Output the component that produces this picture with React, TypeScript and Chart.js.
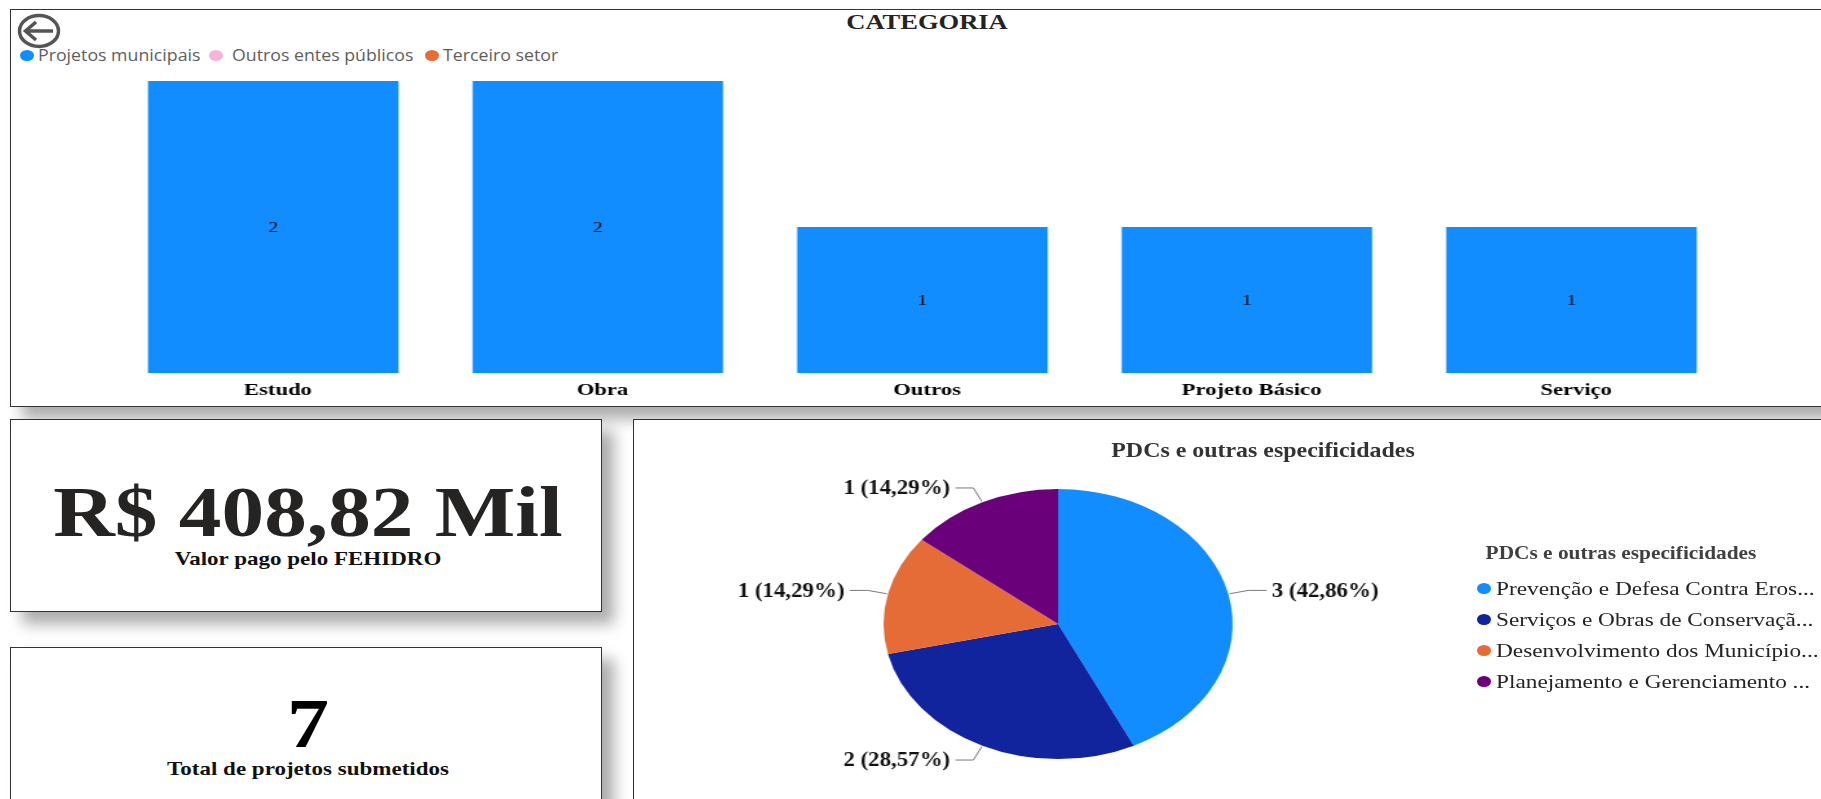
import React, { useEffect, useRef } from "react";
import { Chart, registerables } from "chart.js";

Chart.register(...registerables);

const categories = ["Estudo", "Obra", "Outros", "Projeto Básico", "Serviço"];
const projetosMunicipais = [2, 2, 1, 1, 1];
const outrosEntes = [0, 0, 0, 0, 0];
const terceiroSetor = [0, 0, 0, 0, 0];
const seriesNames = ["Projetos municipais", "Outros entes públicos", "Terceiro setor"];
const seriesColors = ["#118DFF", "#F5B4DC", "#E66C37"];

const pdcNames = [
  "Prevenção e Defesa Contra Eros...",
  "Serviços e Obras de Conservaçã...",
  "Desenvolvimento dos Município...",
  "Planejamento e Gerenciamento ...",
];
const pdcValues = [3, 2, 1, 1];
const pdcColors = ["#118DFF", "#12239E", "#E66C37", "#6B007B"];

const STRETCH = 1.293;
const SERIF = '"Liberation Serif", serif';

const valueLabels = {
  id: "valueLabels",
  afterDatasetsDraw(chart: any) {
    const ctx = chart.ctx;
    ctx.save();
    ctx.font = `15px ${SERIF}`;
    ctx.fillStyle = "#000";
    ctx.textAlign = "center";
    ctx.textBaseline = "middle";
    chart.data.datasets.forEach((ds: any, i: number) => {
      chart.getDatasetMeta(i).data.forEach((bar: any, j: number) => {
        if (ds.data[j] > 0) ctx.fillText(String(ds.data[j]), bar.x, (bar.y + bar.base) / 2 + 1);
      });
    });
    ctx.restore();
  },
};

const pieLabels = {
  id: "pieLabels",
  afterDatasetsDraw(chart: any) {
    const ctx = chart.ctx;
    const values: number[] = chart.data.datasets[0].data;
    const total = values.reduce((a, b) => a + b, 0);
    ctx.save();
    ctx.font = `bold 20px ${SERIF}`;
    ctx.textBaseline = "middle";
    chart.getDatasetMeta(0).data.forEach((arc: any, i: number) => {
      const mid = (arc.startAngle + arc.endAngle) / 2;
      const r = arc.outerRadius;
      const dir = Math.cos(mid) >= 0 ? 1 : -1;
      const x0 = arc.x + Math.cos(mid) * (r + 1);
      const y0 = arc.y + Math.sin(mid) * (r + 1);
      const x1 = arc.x + Math.cos(mid) * (r + 16);
      const y1 = arc.y + Math.sin(mid) * (r + 16);
      const x2 = x1 + dir * 14;
      ctx.strokeStyle = "#7a7a7a";
      ctx.lineWidth = 1;
      ctx.beginPath();
      ctx.moveTo(x0, y0);
      ctx.lineTo(x1, y1);
      ctx.lineTo(x2, y1);
      ctx.stroke();
      const pct = ((values[i] / total) * 100).toFixed(2).replace(".", ",");
      ctx.fillStyle = "#111";
      ctx.textAlign = dir > 0 ? "left" : "right";
      // The label face is narrower than the stretched canvas would make it.
      ctx.save();
      ctx.translate(x2 + dir * 4, y1 + 1);
      ctx.scale(0.885, 1);
      ctx.fillText(`${values[i]} (${pct}%)`, 0, 0);
      ctx.restore();
    });
    ctx.restore();
  },
};

type TextProps = {
  x: number;
  y: number;
  size: number;
  text: string;
  sx?: number;
  bold?: boolean;
  color?: string;
  font?: string;
  anchor?: "center" | "left";
};

function Label({ x, y, size, text, sx = STRETCH, bold = true, color = "#111", font = SERIF, anchor = "center" }: TextProps) {
  const centered = anchor === "center";
  return (
    <div
      style={{
        position: "absolute",
        left: x,
        top: y,
        fontFamily: font,
        fontSize: size,
        fontWeight: bold ? 700 : 400,
        color,
        lineHeight: 1,
        whiteSpace: "nowrap",
        transformOrigin: centered ? "center" : "left center",
        transform: centered ? `translate(-50%,-50%) scaleX(${sx})` : `translateY(-50%) scaleX(${sx})`,
      }}
    >
      {text}
    </div>
  );
}

function Panel({ l, t, w, h, shadow = true }: { l: number; t: number; w: number; h: number; shadow?: boolean }) {
  return (
    <div
      style={{
        position: "absolute",
        left: l,
        top: t,
        width: w,
        height: h,
        boxSizing: "border-box",
        border: "1.5px solid #333",
        background: "#fff",
        boxShadow: shadow ? "12px 12px 14px rgba(0,0,0,0.33)" : "none",
      }}
    />
  );
}

function Dot({ x, y, color }: { x: number; y: number; color: string }) {
  return (
    <div
      style={{
        position: "absolute",
        left: x - 7,
        top: y - 5.5,
        width: 14,
        height: 11,
        borderRadius: "50%",
        background: color,
      }}
    />
  );
}

export default function App() {
  const barRef = useRef<HTMLCanvasElement>(null);
  const pieRef = useRef<HTMLCanvasElement>(null);

  useEffect(() => {
    const bar = new Chart(barRef.current!, {
      type: "bar",
      data: {
        labels: categories,
        datasets: [
          { label: seriesNames[0], data: projetosMunicipais, backgroundColor: seriesColors[0] },
          { label: seriesNames[1], data: outrosEntes, backgroundColor: seriesColors[1] },
          { label: seriesNames[2], data: terceiroSetor, backgroundColor: seriesColors[2] },
        ],
      },
      options: {
        responsive: false,
        animation: false,
        layout: { padding: 0 },
        datasets: { bar: { categoryPercentage: 1, barPercentage: 0.772 } },
        plugins: { legend: { display: false }, title: { display: false }, tooltip: { enabled: false } },
        scales: {
          x: {
            stacked: true,
            grid: { display: false, drawTicks: false },
            border: { display: false },
            afterFit: (s: any) => {
              s.height = 33;
            },
            ticks: {
              padding: 7,
              labelOffset: 3.6,
              maxRotation: 0,
              autoSkip: false,
              color: "#000",
              font: { family: SERIF, size: 17.5, weight: "bold" },
            },
          },
          y: { stacked: true, display: false, min: 0, max: 2 },
        },
      },
      plugins: [valueLabels],
    } as any);

    const pie = new Chart(pieRef.current!, {
      type: "pie",
      data: {
        labels: pdcNames,
        datasets: [{ data: pdcValues, backgroundColor: pdcColors, borderWidth: 0 }],
      },
      options: {
        responsive: false,
        animation: false,
        layout: { padding: { top: 69, bottom: 40, left: 0, right: 262 } },
        plugins: { legend: { display: false }, title: { display: false }, tooltip: { enabled: false } },
      },
      plugins: [pieLabels],
    } as any);

    return () => {
      bar.destroy();
      pie.destroy();
    };
  }, []);

  const legendX = [
    [27, 38],
    [216, 232],
    [432, 443],
  ];

  return (
    <div style={{ position: "absolute", left: 0, top: 0, width: 1821, height: 799, overflow: "hidden", background: "#fff" }}>
      <Panel l={10} t={9} w={1860} h={398} />
      <Panel l={10} t={419} w={592} h={193} />
      <Panel l={10} t={647} w={592} h={200} />
      <Panel l={633} t={419} w={1240} h={420} shadow={false} />

      <svg width={60} height={50} style={{ position: "absolute", left: 10, top: 10 }}>
        <ellipse cx={29} cy={21} rx={19.5} ry={15.5} fill="none" stroke="#555" strokeWidth={3.5} />
        <path d="M43 21 H16 M26 12 L15.5 21 L26 30" fill="none" stroke="#555" strokeWidth={3.5} />
      </svg>

      <Label x={927} y={22} size={20.5} text="CATEGORIA" color="#252423" />
      {seriesNames.map((name, i) => (
        <React.Fragment key={name}>
          <Dot x={legendX[i][0]} y={55} color={seriesColors[i]} />
          <Label x={legendX[i][1]} y={55.5} size={15.5} text={name} sx={1.145} bold={false} color="#605E5C" font='"Open Sans", sans-serif' anchor="left" />
        </React.Fragment>
      ))}

      <div style={{ position: "absolute", left: 111, top: 81, width: 1254.8, height: 325, transform: `scaleX(${STRETCH})`, transformOrigin: "left top" }}>
        <canvas ref={barRef} width={1255} height={325} style={{ display: "block" }} />
      </div>

      <Label x={307.6} y={512} size={72} text="R$ 408,82 Mil" sx={1.185} color="#252423" />
      <Label x={307.6} y={558.5} size={19.5} text="Valor pago pelo FEHIDRO" sx={1.18} />
      <Label x={307.6} y={724} size={70} text="7" sx={1.2} color="#000" />
      <Label x={307.6} y={769} size={19.5} text="Total de projetos submetidos" sx={1.18} />

      <div style={{ position: "absolute", left: 634, top: 420, width: 918, height: 379, transform: `scaleX(${STRETCH})`, transformOrigin: "left top" }}>
        <canvas ref={pieRef} width={918} height={379} style={{ display: "block" }} />
      </div>

      <Label x={1263} y={451} size={21.5} text="PDCs e outras especificidades" sx={1.112} color="#333" />
      <Label x={1621} y={553} size={19.5} text="PDCs e outras especificidades" sx={1.094} color="#404040" />
      {pdcNames.map((name, i) => (
        <React.Fragment key={name}>
          <Dot x={1484} y={588.7 + i * 31} color={pdcColors[i]} />
          <Label x={1496} y={588.7 + i * 31} size={18} text={name} bold={false} color="#252423" anchor="left" />
        </React.Fragment>
      ))}
    </div>
  );
}
